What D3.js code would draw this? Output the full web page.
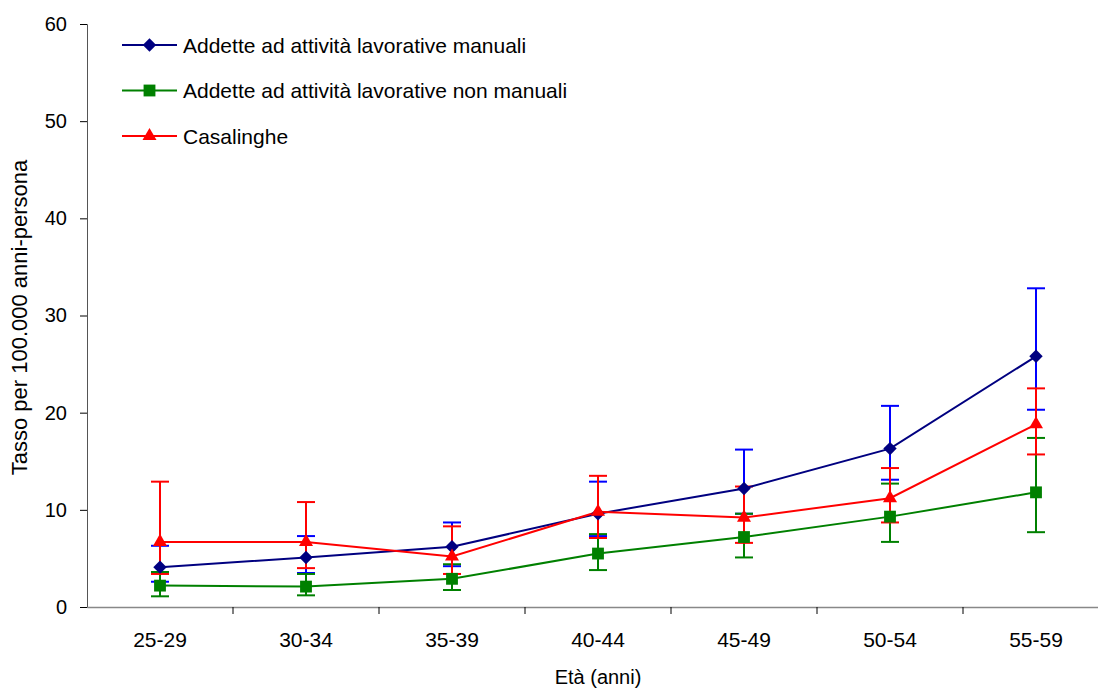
<!DOCTYPE html>
<html>
<head>
<meta charset="utf-8">
<script src="https://cdn.jsdelivr.net/npm/d3@7"></script>
<style>
  body { margin: 0; background: #fff; }
  text { font-family: "Liberation Sans", Arial, sans-serif; }
</style>
</head>
<body>
<script>
// data
const categories = ["25-29", "30-34", "35-39", "40-44", "45-49", "50-54", "55-59"];
const yTicks = [0, 10, 20, 30, 40, 50, 60];

const manualiVal = [4.1, 5.1, 6.2, 9.6, 12.2, 16.3, 25.8];
const manualiLow = [2.6, 3.5, 4.2, 7.3, 9.6, 13.1, 20.3];
const manualiHigh = [6.3, 7.3, 8.7, 12.9, 16.2, 20.7, 32.8];

const nonManualiVal = [2.2, 2.1, 2.9, 5.5, 7.2, 9.3, 11.8];
const nonManualiLow = [1.1, 1.2, 1.75, 3.8, 5.1, 6.7, 7.7];
const nonManualiHigh = [3.6, 3.4, 4.4, 7.5, 9.6, 12.7, 17.4];

const casalingheVal = [6.7, 6.7, 5.2, 9.8, 9.2, 11.2, 18.8];
const casalingheLow = [3.4, 4.0, 3.4, 7.1, 6.6, 8.7, 15.7];
const casalingheHigh = [12.9, 10.8, 8.3, 13.5, 12.4, 14.3, 22.5];

const series = [
  {name: "Addette ad attività lavorative manuali", val: manualiVal, low: manualiLow, high: manualiHigh,
   line: "#000080", err: "#0000ff", shape: "diamond"},
  {name: "Addette ad attività lavorative non manuali", val: nonManualiVal, low: nonManualiLow, high: nonManualiHigh,
   line: "#008000", err: "#008000", shape: "square"},
  {name: "Casalinghe", val: casalingheVal, low: casalingheLow, high: casalingheHigh,
   line: "#ff0000", err: "#ff0000", shape: "triangle"}
];

// dimensions
const margin = {top: 24, right: 0, bottom: 86, left: 87},
    width = 1098 - margin.left - margin.right,
    height = 693 - margin.top - margin.bottom;

const svg = d3.select("body")
  .append("svg")
    .attr("width", 1098)
    .attr("height", 693)
  .append("g")
    .attr("transform", "translate(" + margin.left + "," + margin.top + ")");

// scales
const x = d3.scaleBand()
    .domain(categories)
    .range([0, 146 * categories.length]);

const y = d3.scaleLinear()
    .domain([0, 60])
    .range([height, 0]);

const cx = d => x(d) + x.bandwidth() / 2;

// y axis
const yAxis = svg.append("g")
    .call(d3.axisLeft(y).tickValues(yTicks).tickSize(7).tickPadding(13));
yAxis.select(".domain").attr("stroke", "#555").attr("stroke-width", 1);
yAxis.selectAll(".tick line").attr("stroke", "#000");
yAxis.selectAll("text").attr("font-size", "20px").attr("fill", "#000");

// x axis
const xAxis = svg.append("g")
    .attr("transform", "translate(0," + height + ")")
    .call(d3.axisBottom(x).tickSize(0).tickPadding(25).tickSizeOuter(0));
xAxis.select(".domain").attr("stroke", "#888").attr("stroke-width", 1.5);
xAxis.selectAll("text").attr("font-size", "21px").attr("fill", "#000");

// tick marks between categories
svg.append("g")
  .selectAll("line")
  .data(categories.slice(1))
  .enter()
  .append("line")
    .attr("x1", d => x(d))
    .attr("x2", d => x(d))
    .attr("y1", height)
    .attr("y2", height + 7)
    .attr("stroke", "#000");

// axis titles
svg.append("text")
    .attr("transform", "rotate(-90)")
    .attr("x", -(y(30)) - 2)
    .attr("y", -60)
    .attr("text-anchor", "middle")
    .attr("font-size", "22px")
    .text("Tasso per 100.000 anni-persona");

svg.append("text")
    .attr("x", cx("40-44"))
    .attr("y", height + 77)
    .attr("text-anchor", "middle")
    .attr("font-size", "20px")
    .text("Età (anni)");

// error bars
series.forEach(s => {
  const g = svg.append("g");
  categories.forEach((c, i) => {
    g.append("line")
      .attr("x1", cx(c)).attr("x2", cx(c))
      .attr("y1", y(s.low[i])).attr("y2", y(s.high[i]))
      .attr("stroke", s.err).attr("stroke-width", 2);
    [s.low[i], s.high[i]].forEach(v => {
      g.append("line")
        .attr("x1", cx(c) - 9).attr("x2", cx(c) + 9)
        .attr("y1", y(v)).attr("y2", y(v))
        .attr("stroke", s.err).attr("stroke-width", 2);
    });
  });
});

// lines
const line = d3.line().x(d => cx(d.c)).y(d => y(d.v));
series.forEach(s => {
  svg.append("path")
    .datum(categories.map((c, i) => ({c: c, v: s.val[i]})))
    .attr("fill", "none")
    .attr("stroke", s.line)
    .attr("stroke-width", 2)
    .attr("d", line);
});

// markers
const symbolType = {diamond: d3.symbolSquare, square: d3.symbolSquare, triangle: d3.symbolTriangle};
const symbolSize = {diamond: 90, square: 140, triangle: 85};
function marker(g, s, px, py) {
  g.append("path")
    .attr("d", d3.symbol().type(symbolType[s.shape]).size(symbolSize[s.shape])())
    .attr("transform", "translate(" + px + "," + py + ")" + (s.shape === "diamond" ? " rotate(45)" : ""))
    .attr("fill", s.line);
}
series.forEach(s => {
  const g = svg.append("g");
  categories.forEach((c, i) => marker(g, s, cx(c), y(s.val[i])));
});

// legend
const legend = svg.append("g").attr("transform", "translate(" + (122 - margin.left) + "," + (45 - margin.top) + ")");
series.forEach((s, i) => {
  const ly = i * 45.5;
  legend.append("line")
    .attr("x1", 0).attr("x2", 55)
    .attr("y1", ly).attr("y2", ly)
    .attr("stroke", s.line).attr("stroke-width", 2);
  marker(legend, s, 27.5, ly);
  legend.append("text")
    .attr("x", 61)
    .attr("y", ly + 7.5)
    .attr("font-size", "21px")
    .text(s.name);
});
</script>
</body>
</html>
